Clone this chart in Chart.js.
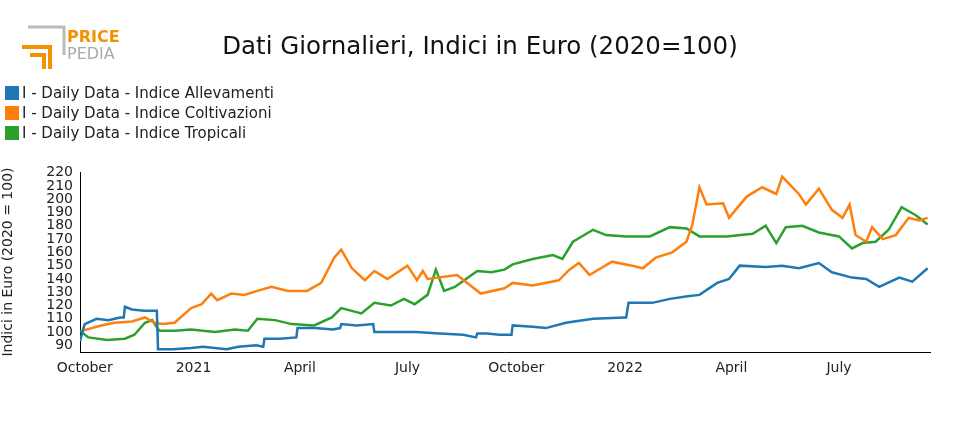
<!DOCTYPE html>
<html><head><meta charset="utf-8">
<script src="https://cdn.jsdelivr.net/npm/chart.js@4"></script>
<style>
body{margin:0;width:960px;height:430px;background:#fff;font-family:"DejaVu Sans",sans-serif;position:relative;overflow:hidden}
#c{position:absolute;left:0;top:0}
.t{position:absolute;left:0;width:960px;top:31px;text-align:center;font-size:24.5px;color:#111}
.lg{position:absolute;left:5px;font-size:15px;color:#222}
.lg span{display:inline-block;width:14px;height:14px;vertical-align:-2px;margin-right:3px}
.logo{position:absolute;left:20px;top:25px}
</style></head><body>
<canvas id="c" width="960" height="430"></canvas>
<div class="logo">
<svg width="110" height="48"><path d="M8 2h36v28" fill="none" stroke="#bbb" stroke-width="3"/><path d="M2 22h28v22M10 30h14v14" fill="none" stroke="#f39200" stroke-width="4"/>
<text x="47" y="17" font-family="DejaVu Sans" font-size="16" font-weight="bold" fill="#f39200">PRICE</text>
<text x="47" y="34" font-family="DejaVu Sans" font-size="16" fill="#aaa">PEDIA</text></svg></div>
<div class="t">Dati Giornalieri, Indici in Euro (2020=100)</div>
<div class="lg" style="top:84px"><span style="background:#1f77b4"></span>I - Daily Data - Indice Allevamenti</div>
<div class="lg" style="top:104px"><span style="background:#ff7f0e"></span>I - Daily Data - Indice Coltivazioni</div>
<div class="lg" style="top:124px"><span style="background:#2ca02c"></span>I - Daily Data - Indice Tropicali</div>
<script>
// days since 2020-10-01
const allevDays=[-4,-2,0,10,20,30,33,34,40,50,61,62,75,90,100,110,120,130,145,151,152,165,179,180,195,210,216,217,230,244,245,260,280,300,320,331,332,340,351,361,362,379,390,407,430,457,458,460,480,495,510,520,535,545,554,576,590,604,621,632,649,661,672,689,700,713];
const allevVals=[93,100,106,110,109,111,111,119,117,116,116,87,87,88,89,88,87,89,90,89,95,95,96,103,103,102,103,106,105,106,100,100,100,99,98,96,99,99,98,98,105,104,103,107,110,111,111,122,122,125,127,128,137,140,150,149,150,148,152,145,141,140,134,141,138,148];
const coltDays=[-2,2,14,25,40,51,59,66,76,90,99,107,112,124,135,146,158,172,188,200,211,217,226,237,245,256,273,281,286,290,315,335,355,362,379,401,410,418,427,446,463,472,483,497,509,514,520,526,540,545,560,573,585,590,604,610,621,632,641,647,652,661,666,675,686,697,706,713];
const coltVals=[101,102,105,107,108,111,107,106,107,118,121,129,124,129,128,131,134,131,131,137,156,162,148,139,146,140,150,139,146,140,143,129,133,137,135,139,147,152,143,153,150,148,156,160,168,181,209,196,197,186,202,209,204,217,204,196,208,192,186,196,173,168,179,170,173,186,184,186];
const tropDays=[-4,3,19,34,42,51,57,63,76,90,110,127,138,146,161,175,194,209,217,234,245,259,270,279,290,297,304,313,321,332,344,355,362,379,396,404,413,430,441,458,478,495,509,520,543,565,576,585,593,607,621,638,649,658,669,680,691,703,713];
const tropVals=[101,96,94,95,98,107,109,101,101,102,100,102,101,110,109,106,105,111,118,114,122,120,125,121,128,147,131,134,139,146,145,147,151,155,158,155,168,177,173,172,172,179,178,172,172,174,180,167,179,180,175,172,163,167,168,177,194,188,181];
const monthTicks=[0,92,182,273,365,457,547,638];
const monthLabels=["October","2021","April","July","October","2022","April","July"];
const yTicks=[90,100,110,120,130,140,150,160,170,180,190,200,210,220];
const mk=(d,v)=>d.map((x,i)=>({x,y:v[i]}));
const ds=(lab,d,v,c)=>({label:lab,data:mk(d,v),borderColor:c,borderWidth:2.5,pointRadius:0,tension:0,fill:false});
new Chart(document.getElementById('c'),{type:'line',
data:{datasets:[ds('Allevamenti',allevDays,allevVals,'#1f77b4'),ds('Coltivazioni',coltDays,coltVals,'#ff7f0e'),ds('Tropicali',tropDays,tropVals,'#2ca02c')]},
options:{responsive:false,animation:false,layout:{padding:{left:0,right:30,top:172,bottom:48}},
plugins:{legend:{display:false},tooltip:{enabled:false}},
scales:{
x:{type:'linear',min:-4,max:715,afterBuildTicks:s=>{s.ticks=monthTicks.map(v=>({value:v}))},
 afterFit:s=>{s.height=30},
 grid:{display:false,drawTicks:true,tickLength:6,tickColor:'#000'},border:{color:'#000'},
 ticks:{color:'#222',font:{family:'DejaVu Sans',size:14},maxRotation:0,autoSkip:false,padding:2,callback:(v)=>monthLabels[monthTicks.indexOf(v)]}},
y:{min:85,max:220.5,afterBuildTicks:s=>{s.ticks=yTicks.map(v=>({value:v}))},afterFit:s=>{s.width=80},
 grid:{display:false,drawTicks:true,tickLength:5,tickColor:'#000'},border:{color:'#000'},
 title:{display:true,text:'Indici in Euro (2020 = 100)',color:'#222',font:{family:'DejaVu Sans',size:14},padding:0},
 ticks:{color:'#222',font:{family:'DejaVu Sans',size:14},autoSkip:false,padding:2}}
}}});
</script></body></html>
